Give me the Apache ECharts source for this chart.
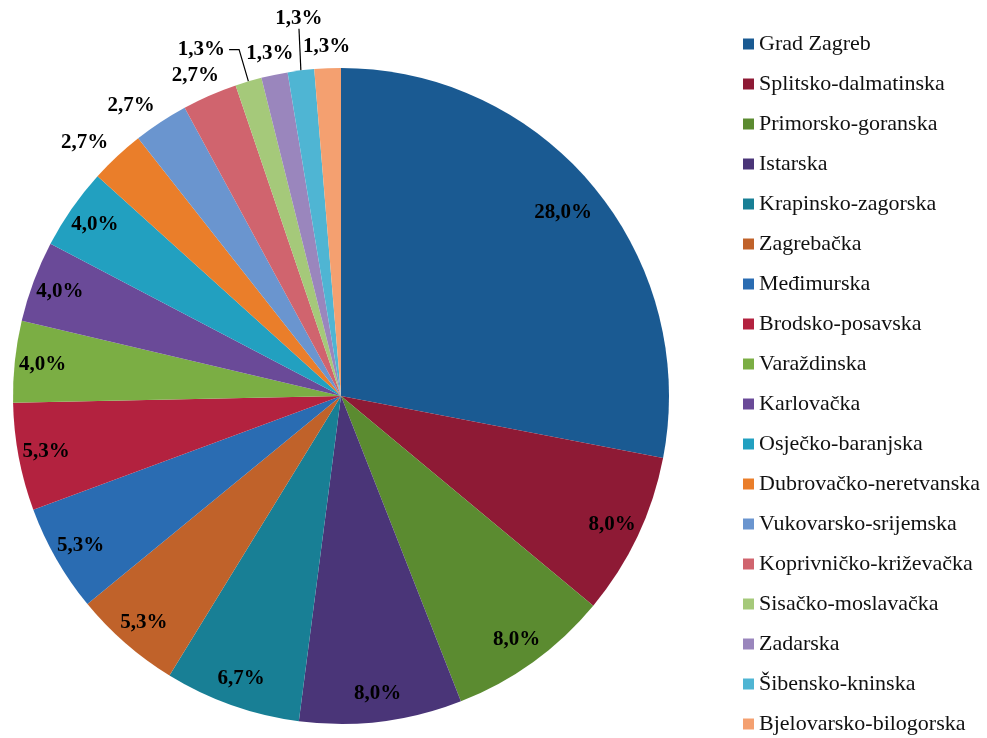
<!DOCTYPE html>
<html>
<head>
<meta charset="utf-8">
<script src="https://cdn.jsdelivr.net/npm/echarts@6/dist/echarts.min.js"></script>
<style>
html,body{margin:0;padding:0;background:#fff;}
#chart{width:987px;height:738px;}
</style>
</head>
<body>
<div id="chart"></div>
<script>
const categories = ['Grad Zagreb','Splitsko-dalmatinska','Primorsko-goranska','Istarska','Krapinsko-zagorska','Zagrebačka','Međimurska','Brodsko-posavska','Varaždinska','Karlovačka','Osječko-baranjska','Dubrovačko-neretvanska','Vukovarsko-srijemska','Koprivničko-križevačka','Sisačko-moslavačka','Zadarska','Šibensko-kninska','Bjelovarsko-bilogorska'];
const values = [28.0, 8.0, 8.0, 8.0, 6.7, 5.3, 5.3, 5.3, 4.0, 4.0, 4.0, 2.7, 2.7, 2.7, 1.3, 1.3, 1.3, 1.3];
const colors = ['#1A5A92','#8E1A35','#5B8B30','#4A3578','#187F95','#C0622A','#2A6CB2','#B3223F','#7BAE44','#6A4A98','#22A0C0','#EA7E2A','#6A95CF','#D0646E','#A5C97A','#9A86BD','#4FB5D3','#F4A070'];
const leaderLabelIdx = [14,16];

const fmt = v => v.toFixed(1).replace('.', ',') + '%';
const labelFont = {fontFamily:'"Liberation Serif", "Times New Roman", serif', fontWeight:'bold', fontSize:21, color:'#000'};

const center = [341, 396];
const R = 328;

// label rings: which slices get their label at which distance from the centre
const labelRings = [
  {idx: [0], r: 285},
  {idx: [1,2,3,4,5,6,7,8,9,10], r: 297},
  {idx: [11,12,13], r: 346, offsets: {11: [-18, 2], 12: [-18, 1], 13: [-6, -1]}},
  {idx: [15,17], r: 347}
];

function overlaySeries(ring, k) {
  return {
    type: 'pie',
    name: 'labels' + k,
    center: center,
    radius: [ring.r - 16, ring.r + 16],
    startAngle: 90,
    clockwise: true,
    avoidLabelOverlap: false,
    silent: true,
    itemStyle: {color: 'rgba(0,0,0,0)'},
    emphasis: {disabled: true},
    label: Object.assign({show: true, position: 'inside', formatter: p => fmt(p.value)}, labelFont),
    labelLine: {show: false},
    data: categories.map((n, i) => {
      const lab = {show: ring.idx.indexOf(i) >= 0};
      if (ring.offsets && ring.offsets[i]) lab.offset = ring.offsets[i];
      return {name: n, value: values[i], label: lab};
    })
  };
}

const mainData = categories.map((n, i) => {
  const d = {name: n, value: values[i], itemStyle: {color: colors[i]}};
  if (leaderLabelIdx.indexOf(i) >= 0) {
    d.label = {show: true, position: 'outside'};
    d.labelLine = {show: true, length: i === 14 ? 33 : 40, length2: i === 14 ? 10 : 0};
  }
  return d;
});

const chart = echarts.init(document.getElementById('chart'), null, {renderer: 'canvas'});
chart.setOption({
  animation: false,
  backgroundColor: '#fff',
  legend: {
    orient: 'vertical',
    left: 743,
    top: 33,
    padding: 0,
    itemWidth: 11,
    itemHeight: 11,
    itemGap: 18,
    icon: 'rect',
    data: categories,
    textStyle: {fontFamily:'"Liberation Serif", "Times New Roman", serif', fontSize:22, color:'#111', lineHeight:22}
  },
  series: [
    {
      type: 'pie',
      name: 'main',
      center: center,
      radius: [0, R],
      startAngle: 90,
      clockwise: true,
      avoidLabelOverlap: false,
      silent: true,
      itemStyle: {borderWidth: 0},
      label: Object.assign({show: false, formatter: p => fmt(p.value), distanceToLabelLine: 4}, labelFont),
      labelLine: {show: false, lineStyle: {color: '#000', width: 1.2}},
      labelLayout: function (p) {
        if (p.dataIndex === 16 && p.labelLinePoints) {
          const e = p.labelLinePoints[p.labelLinePoints.length - 1];
          return {x: e[0] + 3, y: e[1] - 2, align: 'center', verticalAlign: 'bottom'};
        }
      },
      data: mainData
    }
  ].concat(labelRings.map(overlaySeries))
});
</script>
</body>
</html>
